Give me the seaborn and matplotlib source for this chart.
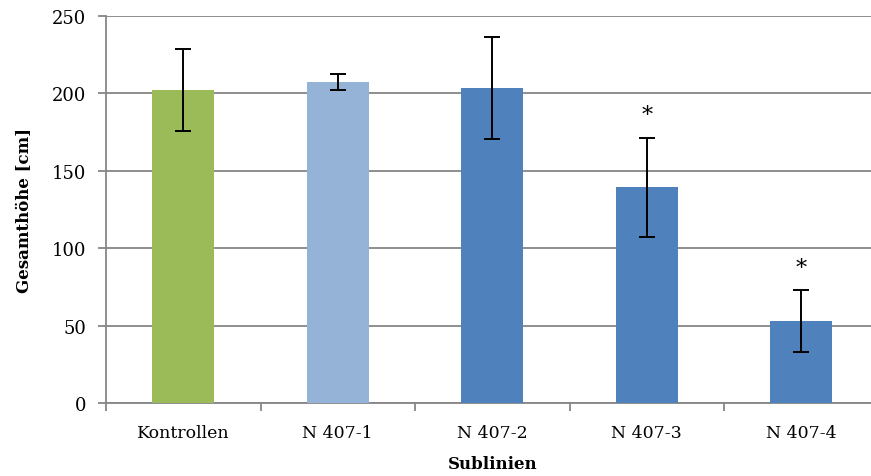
import matplotlib
matplotlib.use("Agg")
import matplotlib.pyplot as plt
import seaborn as sns
import pandas as pd
import numpy as np

# Sublinien and measured total height (mean ± SD)
categories = ["Kontrollen", "N 407-1", "N 407-2", "N 407-3", "N 407-4"]
heights = [202.0, 207.5, 203.5, 139.5, 53.0]
errors = [26.5, 5.0, 33.0, 32.0, 20.0]
significant = [False, False, False, True, True]
colors = ["#9BBB59", "#95B3D7", "#4F81BD", "#4F81BD", "#4F81BD"]
y_ticks = [0, 50, 100, 150, 200, 250]

sns.set_theme(style="white")
plt.rcParams["font.family"] = ["DejaVu Serif"]

df = pd.DataFrame({"Sublinie": categories, "Hoehe": heights})

fig = plt.figure(figsize=(8.71, 4.77), dpi=100)
ax = fig.add_axes([106 / 871, 73 / 477, 772.5 / 871, 387 / 477])

sns.barplot(data=df, x="Sublinie", y="Hoehe", hue="Sublinie",
            palette=colors, saturation=1, legend=False, width=0.40, ax=ax,
            edgecolor="none", linewidth=0, zorder=3)

x = np.arange(len(categories))
ax.errorbar(x, heights, yerr=errors, fmt="none", ecolor="black",
            elinewidth=1.4, capsize=6, capthick=1.4, zorder=4)

for xi, h, e, s in zip(x, heights, errors, significant):
    if s:
        ax.annotate("*", xy=(xi, h + e), xytext=(0, 16),
                    textcoords="offset points", ha="center", va="center",
                    fontsize=16, color="black", zorder=5)

ax.set_xlim(-0.5, len(categories) - 0.5)
ax.set_ylim(0, 250)
ax.set_yticks(y_ticks)
ax.yaxis.grid(True, color="#868686", linewidth=1.3, zorder=0)
ax.set_axisbelow(True)

for side in ["top", "right"]:
    ax.spines[side].set_visible(False)
for side in ["left", "bottom"]:
    ax.spines[side].set_color("#868686")
    ax.spines[side].set_linewidth(1.3)

# category separators as minor ticks below the axis
ax.set_xticks(np.arange(-0.5, len(categories) + 0.5, 1.0), minor=True)
ax.tick_params(axis="x", which="minor", direction="out", length=6,
               width=1.3, color="#868686", bottom=True)
ax.tick_params(axis="x", which="major", length=0, pad=15, labelsize=12.5,
               labelcolor="black")
ax.tick_params(axis="y", which="major", direction="out", length=6,
               width=1.3, color="#868686", left=True, pad=8,
               labelsize=13, labelcolor="black")

ax.set_xlabel("Sublinien", fontsize=12, fontweight="bold", labelpad=10,
              color="black")
ax.set_ylabel("Gesamthöhe [cm]", fontsize=12, fontweight="bold",
              labelpad=14, color="black")

fig.savefig("out.png", dpi=100)
